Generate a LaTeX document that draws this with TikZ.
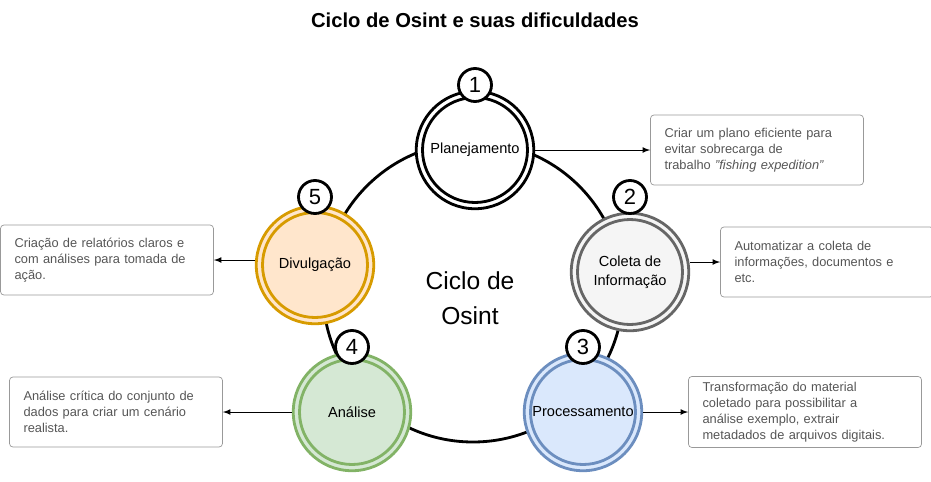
\documentclass[tikz,border=0pt]{standalone}
\usepackage{fontspec}
\setmainfont{Liberation Sans}
\usetikzlibrary{positioning}
\definecolor{boxgray}{HTML}{999999}
\definecolor{txtgray}{HTML}{555555}
\definecolor{cgray}{HTML}{666666}
\definecolor{fgray}{HTML}{F5F5F5}
\definecolor{cblue}{HTML}{6C8EBF}
\definecolor{fblue}{HTML}{DAE8FC}
\definecolor{cgreen}{HTML}{82B366}
\definecolor{fgreen}{HTML}{D5E8D4}
\definecolor{corange}{HTML}{D79B00}
\definecolor{forange}{HTML}{FFE6CC}
\tikzset{
  step/.style={circle, minimum size=2.35cm, line width=1.6pt, draw=#1, font=\fontsize{8.3}{11}\selectfont, align=center},
  ring/.style={circle, minimum size=2.1cm, line width=1.6pt, draw=#1},
  badge/.style={circle, fill=white, draw=black, line width=1.6pt, minimum size=0.66cm, inner sep=0pt, font=\fontsize{12.5}{14}\selectfont},
  note/.style={draw=boxgray, rounded corners=2pt, text=txtgray, font=\fontsize{7.3}{9}\selectfont, align=left, text width=#1, minimum height=1.4cm, inner xsep=8pt},
  link/.style={-latex, line width=0.5pt}
}
\begin{document}
\begin{tikzpicture}[x=0.02cm, y=-0.02cm]
  \useasboundingbox (0,0) rectangle (931,481);

  \node[font=\fontsize{11.5}{13}\bfseries] (title) at (475,20) {Ciclo de Osint e suas dificuldades};

  % grande ciclo
  \draw[line width=1.6pt] (473,292) circle (150);
  \node[align=center, font=\fontsize{14}{20}\selectfont] (centro) at (470,298) {Ciclo de\\Osint};

  % etapas
  \node[step=black, fill=white] (plan) at (475,150) {Planejamento};
  \node[ring=black] at (plan) {};
  \node[step=cgray, fill=fgray] (coleta) at (630,272) {Coleta de\\Informação};
  \node[ring=cgray] at (coleta) {};
  \node[step=cblue, fill=fblue] (proc) at (583,412) {Processamento};
  \node[ring=cblue] at (proc) {};
  \node[step=cgreen, fill=fgreen] (anal) at (352,412) {Análise};
  \node[ring=cgreen] at (anal) {};
  \node[step=corange, fill=forange] (divul) at (315,265) {Divulgação};
  \node[ring=corange] at (divul) {};

  % numeros
  \node[badge] (n1) at (475,85) {1};
  \node[badge] (n2) at (630,197) {2};
  \node[badge] (n3) at (583,347) {3};
  \node[badge] (n4) at (352,347) {4};
  \node[badge] (n5) at (315,197) {5};

  % notas
  \node[note=3.7cm] (t1) at (757,150) {Criar um plano eficiente para\\evitar sobrecarga de\\trabalho \textit{"fishing expedition"}};
  \node[note=3.7cm] (t2) at (827,262) {Automatizar a coleta de\\informações, documentos e\\etc.};
  \node[note=4.1cm] (t3) at (805,412) {Transformação do material\\coletado para possibilitar a\\análise exemplo, extrair\\metadados de arquivos digitais.};
  \node[note=3.7cm] (t4) at (116,412) {Análise crítica do conjunto de\\dados para criar um cenário\\realista.};
  \node[note=3.7cm] (t5) at (107,260) {Criação de relatórios claros e\\com análises para tomada de\\ação.};

  \draw[link] (plan) -- (t1);
  \draw[link] (coleta.east |- t2) -- (t2);
  \draw[link] (proc) -- (t3);
  \draw[link] (anal) -- (t4);
  \draw[link] (divul.west |- t5) -- (t5);
\end{tikzpicture}
\end{document}
